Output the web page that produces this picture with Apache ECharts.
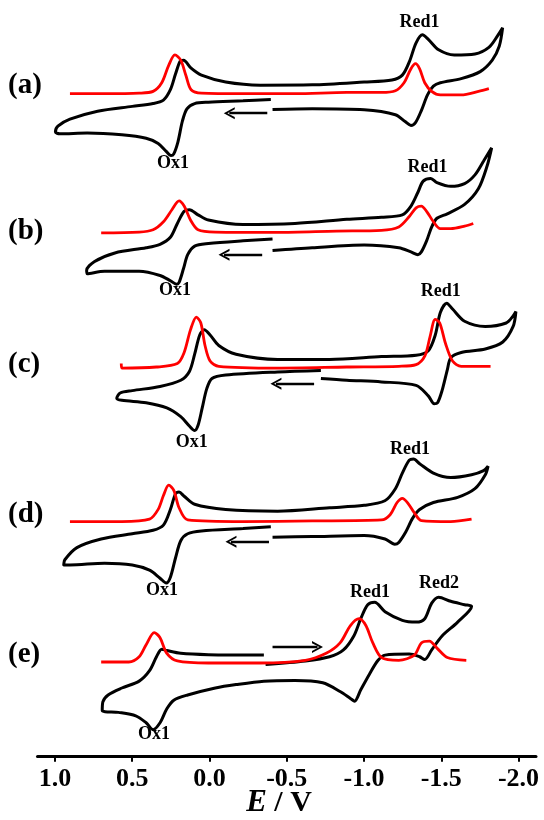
<!DOCTYPE html>
<html>
<head>
<meta charset="utf-8">
<script src="https://cdn.jsdelivr.net/npm/echarts@6/dist/echarts.min.js"></script>
<style>html,body{margin:0;padding:0;background:#fff}#c{width:544px;height:820px}</style>
</head>
<body>
<div id="c"></div>
<script>
// Potential ticks (V)
const tickValues = [1.0, 0.5, 0.0, -0.5, -1.0, -1.5, -2.0];
const panelLabels = ['(a)', '(b)', '(c)', '(d)', '(e)'];
// vertical offsets of each panel's baseline (a.u.)
const panelOffsets = [637.0, 504.0, 374.4, 225.9, 91.0];

// [E (V), current (a.u.)]
const cvA = [[-0.397,-5.5],[-0.217,-6.8],[0.007,-8.2],[0.096,-9.5],[0.146,-14.5],[0.175,-26.2],[0.204,-46.2],[0.231,-57.8],[0.249,-59.5],[0.280,-55.5],[0.332,-47.8],[0.410,-42.8],[0.567,-39.5],[0.791,-37.8],[0.970,-38.5],[0.997,-36.8],[0.981,-31.2],[0.903,-24.5],[0.724,-16.8],[0.500,-12.2],[0.365,-9.5],[0.298,-6.2],[0.253,3.8],[0.220,18.8],[0.190,31.2],[0.168,32.2],[0.119,24.5],[0.052,17.8],[-0.105,11.2],[-0.329,8.2],[-0.665,8.5],[-1.001,11.2],[-1.181,13.2],[-1.248,17.8],[-1.293,30.5],[-1.337,48.8],[-1.378,56.5],[-1.416,52.2],[-1.483,42.2],[-1.584,37.2],[-1.718,38.2],[-1.808,44.5],[-1.864,55.5],[-1.897,63.2],[-1.875,45.5],[-1.830,32.2],[-1.752,21.2],[-1.629,14.5],[-1.494,10.5],[-1.449,7.2],[-1.411,-1.2],[-1.371,-16.2],[-1.333,-27.8],[-1.304,-30.5],[-1.266,-26.8],[-1.203,-20.2],[-1.001,-15.5],[-0.665,-14.5],[-0.408,-15.2]];
const dpvA = [[0.903,0],[0.679,0],[0.455,0.5],[0.365,2.2],[0.309,10.5],[0.264,27.2],[0.224,37.2],[0.186,32.2],[0.152,17.2],[0.119,3.8],[0.052,0.5],[-0.217,0],[-0.553,0],[-0.889,1.2],[-1.113,1.2],[-1.203,2.8],[-1.259,10.5],[-1.303,23.8],[-1.333,28.8],[-1.360,23.8],[-1.393,10.5],[-1.438,2.2],[-1.494,-1.2],[-1.629,-1.2],[-1.741,2.2],[-1.808,4.8]];

const cvB = [[-0.408,-6.7],[-0.217,-8.4],[0.007,-11],[0.096,-13.4],[0.141,-21.7],[0.168,-35],[0.197,-48.4],[0.213,-50],[0.253,-46.7],[0.320,-41.7],[0.455,-37.7],[0.679,-37.7],[0.791,-40],[0.795,-36.7],[0.746,-28.4],[0.612,-20],[0.410,-15],[0.320,-11.7],[0.253,-5],[0.208,8.3],[0.164,20],[0.130,21.6],[0.074,16.6],[0.007,11.6],[-0.217,7.3],[-0.553,8.3],[-0.889,12.3],[-1.113,14.3],[-1.248,16.6],[-1.304,25],[-1.349,38.3],[-1.383,49],[-1.432,51.6],[-1.472,47.6],[-1.561,44],[-1.651,46.6],[-1.718,55],[-1.774,68.3],[-1.826,81],[-1.796,63.3],[-1.740,41.6],[-1.651,26.6],[-1.539,17.6],[-1.472,13.3],[-1.438,5],[-1.405,-8.4],[-1.371,-19],[-1.349,-21.7],[-1.304,-19],[-1.225,-15],[-1.001,-12.4],[-0.665,-15],[-0.408,-17.7]];
const dpvB = [[0.701,-0.7],[0.455,0],[0.365,2.3],[0.298,10],[0.242,21.7],[0.197,30],[0.164,25],[0.123,11.7],[0.074,2.3],[-0.038,0],[-0.441,-0.3],[-0.822,1],[-1.113,1.7],[-1.225,5],[-1.293,15],[-1.337,23.3],[-1.371,25],[-1.405,20],[-1.449,10],[-1.494,3.3],[-1.561,3.3],[-1.651,5.7],[-1.707,8.3]];

const cvC = [[-0.721,-3.3],[-0.441,-4.7],[-0.105,-7.7],[-0.016,-11],[0.018,-21],[0.047,-39.3],[0.074,-56],[0.096,-61],[0.130,-56.7],[0.186,-47.7],[0.276,-39.3],[0.410,-34.3],[0.567,-32],[0.600,-30],[0.578,-25],[0.500,-22.7],[0.320,-18.7],[0.186,-12.7],[0.130,-4.3],[0.096,12.3],[0.063,30.7],[0.034,35.7],[-0.004,30.7],[-0.060,20.7],[-0.172,12.3],[-0.441,7.3],[-0.777,7.3],[-1.113,10],[-1.337,11.3],[-1.416,15.7],[-1.461,30.7],[-1.494,52.3],[-1.535,61.3],[-1.573,55.7],[-1.651,44],[-1.785,39],[-1.920,42.3],[-1.965,49],[-1.983,53.3],[-1.965,39],[-1.898,24],[-1.785,17.3],[-1.629,14],[-1.562,9],[-1.539,-2.7],[-1.505,-22.7],[-1.476,-34.3],[-1.454,-35.3],[-1.416,-27.7],[-1.337,-17.7],[-1.113,-14.3],[-0.889,-12.7],[-0.721,-11]];
const dpvC = [[0.571,3.3],[0.567,-1],[0.343,0],[0.208,3.3],[0.164,14],[0.123,35.7],[0.085,48],[0.056,42.3],[0.029,20.7],[-0.004,5.7],[-0.060,0.7],[-0.441,-1],[-0.889,0],[-1.225,0.7],[-1.337,2.3],[-1.394,10.7],[-1.427,29],[-1.461,45.7],[-1.490,42.3],[-1.528,22.3],[-1.573,5.7],[-1.629,0.7],[-1.819,0.7]];

const cvD = [[-0.397,-5],[-0.217,-6.7],[0.052,-9],[0.141,-11.7],[0.186,-18.4],[0.220,-35],[0.253,-53.4],[0.280,-59],[0.320,-54.4],[0.388,-46.7],[0.500,-41.7],[0.679,-40],[0.903,-41.7],[0.943,-41.7],[0.936,-36.7],[0.858,-25],[0.701,-16.7],[0.500,-11.7],[0.365,-8.4],[0.298,-3.4],[0.253,11.6],[0.220,26.6],[0.197,28.3],[0.164,24.3],[0.096,16.6],[-0.105,11.6],[-0.441,10],[-0.777,13.3],[-1.001,15.6],[-1.135,20],[-1.203,31.6],[-1.248,46.6],[-1.293,59],[-1.320,60],[-1.360,55.6],[-1.449,46.6],[-1.561,42.3],[-1.696,45],[-1.774,49],[-1.803,53.3],[-1.785,45],[-1.718,31.6],[-1.606,23.3],[-1.449,18.3],[-1.360,11.6],[-1.315,3.3],[-1.270,-10],[-1.225,-20],[-1.199,-21.7],[-1.136,-16.7],[-1.001,-13.4],[-0.665,-14.4],[-0.408,-15]];
const dpvD = [[0.903,0],[0.567,0],[0.388,2.3],[0.332,11.7],[0.298,25],[0.264,35],[0.231,30],[0.197,13.3],[0.141,1.6],[-0.217,0],[-0.665,0.6],[-1.113,1.6],[-1.169,6.6],[-1.214,18.3],[-1.248,22.3],[-1.281,18.3],[-1.326,8.3],[-1.371,1],[-1.561,0],[-1.696,2.3]];

const cvE = [[-0.352,6.6],[0.007,7],[0.186,8.3],[0.276,11],[0.309,12.3],[0.343,5],[0.388,-8.4],[0.455,-18.4],[0.567,-25],[0.656,-31.7],[0.690,-38.4],[0.694,-46.7],[0.589,-48.4],[0.477,-51.7],[0.410,-58.4],[0.365,-65],[0.320,-58.4],[0.276,-45],[0.231,-36.7],[0.141,-31.7],[-0.038,-25],[-0.172,-21.7],[-0.352,-18.4],[-0.553,-17.7],[-0.733,-20],[-0.845,-28.4],[-0.912,-35],[-0.939,-37.7],[-0.979,-26.7],[-1.035,-11.7],[-1.091,1.6],[-1.136,6.6],[-1.293,7.6],[-1.360,5],[-1.393,2.3],[-1.438,11.6],[-1.505,25],[-1.606,38.3],[-1.696,53.3],[-1.651,55],[-1.561,58.3],[-1.483,62.3],[-1.438,56.6],[-1.393,41.6],[-1.337,38.3],[-1.248,40],[-1.136,48.3],[-1.069,57.3],[-1.024,55],[-0.979,41.6],[-0.934,25],[-0.867,11.6],[-0.777,5],[-0.621,1],[-0.363,-2.4]];
const dpvE = [[0.701,0],[0.522,0],[0.455,5],[0.410,16.6],[0.358,28.3],[0.320,23.3],[0.276,8.3],[0.208,1],[0.007,-1],[-0.329,-1],[-0.620,1.6],[-0.755,8.3],[-0.845,18.3],[-0.912,35],[-0.968,41.6],[-1.012,35],[-1.057,18.3],[-1.113,4.3],[-1.225,1.6],[-1.326,6.6],[-1.371,18.3],[-1.423,20],[-1.472,13.3],[-1.539,4.3],[-1.662,1.6]];

// scan-direction arrows: [E tail, E head, current]
const arrowsData = [[-0.374,-0.128,-18.7],[-0.341,-0.094,-21.7],[-0.677,-0.430,-16],[-0.385,-0.139,-19.3],[-0.408,-0.699,14.3]];

const cvs = [cvA, cvB, cvC, cvD, cvE];
const dpvs = [dpvA, dpvB, dpvC, dpvD, dpvE];

const chart = echarts.init(document.getElementById('c'), null, {renderer: 'canvas'});
const FONT = '"Liberation Serif", "Times New Roman", serif';
const series = [];
// open chevron pointing up (markLine rotates it along the line)
const chevron = 'path://M0,12 L6,0 L12,12 L9.8,12 L6,4 L2.2,12 Z';
cvs.forEach((cv, k) => {
  const off = panelOffsets[k];
  const ar = arrowsData[k];
  series.push({
    type: 'line', data: cv.map(p => [p[0], p[1] + off]), showSymbol: false, smooth: 0.3,
    lineStyle: {color: '#000', width: 3}, z: 3, animation: false,
    markLine: {
      silent: true, animation: false,
      symbol: ['none', chevron], symbolSize: [12, 11],
      lineStyle: {color: '#000', width: 2.4, type: 'solid'}, label: {show: false},
      data: [[{coord: [ar[0], ar[2] + off]}, {coord: [ar[1], ar[2] + off]}]]
    }
  });
  series.push({
    type: 'line', data: dpvs[k].map(p => [p[0], p[1] + off]), showSymbol: false, smooth: 0.3,
    lineStyle: {color: '#ff0000', width: 2.8}, z: 4, animation: false
  });
});

const lbl = (text, x, y, size, align) => ({
  type: 'text', x: x, y: y,
  style: {text: text, font: 'bold ' + size + 'px ' + FONT, fill: '#000', align: align || 'center', verticalAlign: 'middle'}
});
const graphics = [];
const panelY = [86, 232, 364.6, 514.6, 655];
panelLabels.forEach((t, k) => graphics.push(lbl(t, 8, panelY[k], 29, 'left')));
[['Red1', 419.5, 22], ['Ox1', 173, 163], ['Red1', 427.6, 167], ['Ox1', 175, 290],
 ['Red1', 440.7, 291.5], ['Ox1', 191.7, 442], ['Red1', 410, 449], ['Ox1', 162, 590],
 ['Red1', 370, 592], ['Red2', 439, 583.5], ['Ox1', 154, 734]].forEach(a => graphics.push(lbl(a[0], a[1], a[2], 18)));
graphics.push({
  type: 'text', x: 279, y: 803,
  style: {
    text: '{i|E}{n| / V}', align: 'center', verticalAlign: 'middle',
    rich: {
      i: {font: 'italic bold 31px ' + FONT, fill: '#000'},
      n: {font: 'bold 30px ' + FONT, fill: '#000'}
    }
  }
});

chart.setOption({
  animation: false,
  backgroundColor: '#fff',
  grid: {left: 37.5, right: 8, top: 0, bottom: 63.3, containLabel: false},
  xAxis: {
    type: 'value', inverse: true, min: -2.113, max: 1.113,
    axisLine: {show: true, onZero: false, lineStyle: {color: '#000', width: 3}},
    axisTick: {show: true, inside: false, length: 5, customValues: tickValues, lineStyle: {color: '#000', width: 2}},
    axisLabel: {customValues: tickValues, formatter: v => v.toFixed(1), color: '#000', fontFamily: FONT, fontWeight: 'bold', fontSize: 26, margin: 10},
    splitLine: {show: false}
  },
  yAxis: {type: 'value', min: 0, max: 727, show: false},
  series: series,
  graphic: graphics
});
</script>
</body>
</html>
